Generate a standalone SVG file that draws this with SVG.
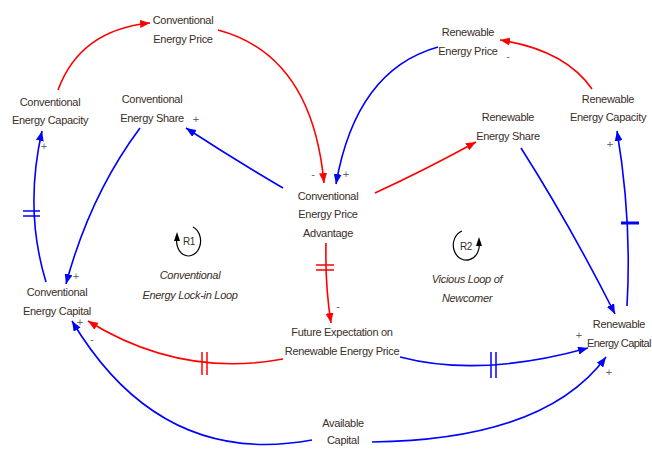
<svg xmlns="http://www.w3.org/2000/svg" width="652" height="450" viewBox="0 0 652 450">
<style>
.t{font-family:"Liberation Sans",Arial,sans-serif;font-size:11px;fill:#3a2e28;text-anchor:middle;letter-spacing:-0.3px}
.i{font-style:italic}
.s{font-family:"Liberation Sans",Arial,sans-serif;font-size:11px;fill:#666;text-anchor:middle}
.r{fill:none;stroke:#ff0000;stroke-width:1.6}
.b{fill:none;stroke:#0000ff;stroke-width:1.6}
.dr{stroke:#ff0000;stroke-width:1.5}
.db{stroke:#0000ff;stroke-width:1.5}
.lp{fill:none;stroke:#000;stroke-width:1.2}
</style>
<defs>
<marker id="ar" viewBox="0 0 10 8" refX="10" refY="4" markerWidth="10" markerHeight="8" markerUnits="userSpaceOnUse" orient="auto"><path d="M0,0 L10,4 L0,8 Z" fill="#ff0000"/></marker>
<marker id="ab" viewBox="0 0 10 8" refX="10" refY="4" markerWidth="10" markerHeight="8" markerUnits="userSpaceOnUse" orient="auto"><path d="M0,0 L10,4 L0,8 Z" fill="#0000ff"/></marker>
</defs>
<rect width="652" height="450" fill="#fff"/>
<g id="connectors">
<path class="r" d="M58,90 Q80,30 150,23" marker-end="url(#ar)"/>
<path class="r" d="M218,30 Q312,55 324,183" marker-end="url(#ar)"/>
<text class="s" x="313" y="178">-</text>
<path class="b" d="M283,188 Q235,160 186,128" marker-end="url(#ab)"/>
<text class="s" x="196" y="123">+</text>
<path class="b" d="M140,128 Q90,195 66,284" marker-end="url(#ab)"/>
<text class="s" x="76" y="280">+</text>
<path class="b" d="M46,282 Q24,210 42,131" marker-end="url(#ab)"/>
<line class="db" x1="23" y1="211" x2="40" y2="211"/><line class="db" x1="23" y1="216" x2="40" y2="216"/>
<text class="s" x="44" y="150">+</text>
<path class="b" d="M438,47 Q356,70 336,184" marker-end="url(#ab)"/>
<text class="s" x="346" y="178">+</text>
<path class="r" d="M592,89 Q565,50 500,40" marker-end="url(#ar)"/>
<text class="s" x="508" y="60">-</text>
<path class="r" d="M375,193 Q425,170 476,142" marker-end="url(#ar)"/>
<path class="b" d="M521,148 Q570,225 615,314" marker-end="url(#ab)"/>
<path class="b" d="M627,306 Q632,220 617,131" marker-end="url(#ab)"/>
<line x1="621" y1="223" x2="639" y2="223" stroke="#0000ff" stroke-width="3"/>
<text class="s" x="610" y="148">+</text>
<path class="r" d="M326,243 Q325,285 331,323" marker-end="url(#ar)"/>
<line class="dr" x1="316" y1="265" x2="334" y2="265"/><line class="dr" x1="316" y1="270" x2="334" y2="270"/>
<text class="s" x="338" y="310">-</text>
<path class="r" d="M283,359 Q180,378 88,321" marker-end="url(#ar)"/>
<line class="dr" x1="202" y1="352" x2="202" y2="375"/><line class="dr" x1="207" y1="352" x2="207" y2="375"/>
<text class="s" x="92" y="343">-</text>
<path class="b" d="M400,357 Q480,378 588,348" marker-end="url(#ab)"/>
<line class="db" x1="491" y1="352" x2="491" y2="378"/><line class="db" x1="496" y1="352" x2="496" y2="378"/>
<text class="s" x="579" y="339">+</text>
<path class="b" d="M312,440 Q160,468 72,321" marker-end="url(#ab)"/>
<text class="s" x="80" y="326">+</text>
<path class="b" d="M372,442 Q545,440 606,357" marker-end="url(#ab)"/>
<text class="s" x="609" y="376">+</text>
</g>
<g id="n-conv-price"><text class="t" x="183" y="24">Conventional</text><text class="t" x="183" y="43">Energy Price</text></g>
<g id="n-conv-capacity"><text class="t" x="50" y="106">Conventional</text><text class="t" x="50" y="124">Energy Capacity</text></g>
<g id="n-conv-share"><text class="t" x="152" y="103">Conventional</text><text class="t" x="152" y="122">Energy Share</text></g>
<g id="n-advantage"><text class="t" x="328" y="200">Conventional</text><text class="t" x="328" y="218">Energy Price</text><text class="t" x="328" y="237">Advantage</text></g>
<g id="n-ren-price"><text class="t" x="468" y="36">Renewable</text><text class="t" x="468" y="55">Energy Price</text></g>
<g id="n-ren-capacity"><text class="t" x="608" y="103">Renewable</text><text class="t" x="608" y="121">Energy Capacity</text></g>
<g id="n-ren-share"><text class="t" x="508" y="121">Renewable</text><text class="t" x="508" y="140">Energy Share</text></g>
<g id="n-conv-capital"><text class="t" x="57" y="296">Conventional</text><text class="t" x="57" y="315">Energy Capital</text></g>
<g id="n-future"><text class="t" x="342" y="336">Future Expectation on</text><text class="t" x="342" y="355">Renewable Energy Price</text></g>
<g id="n-ren-capital"><text class="t" x="619" y="328">Renewable</text><text class="t" x="619" y="347" style="letter-spacing:-0.6px">Energy Capital</text></g>
<g id="n-available"><text class="t" x="343" y="427">Available</text><text class="t" x="343" y="444">Capital</text></g>
<g id="loop-r1">
<path class="lp" d="M193,227 A12,15 0 1,1 177,237"/>
<path d="M177,232 L174,241 L180,241 Z" fill="#000"/>
<text class="t" x="189" y="245" style="font-size:10px">R1</text>
<text class="t i" x="190" y="279">Conventional</text><text class="t i" x="190" y="299">Energy Lock-in Loop</text>
</g>
<g id="loop-r2">
<path class="lp" d="M462,231 A13,15 0 1,0 479,242"/>
<path d="M479,237 L476,246 L482,246 Z" fill="#000"/>
<text class="t" x="466" y="250" style="font-size:10px">R2</text>
<text class="t i" x="467" y="283">Vicious Loop of</text><text class="t i" x="467" y="302">Newcomer</text>
</g>
</svg>
